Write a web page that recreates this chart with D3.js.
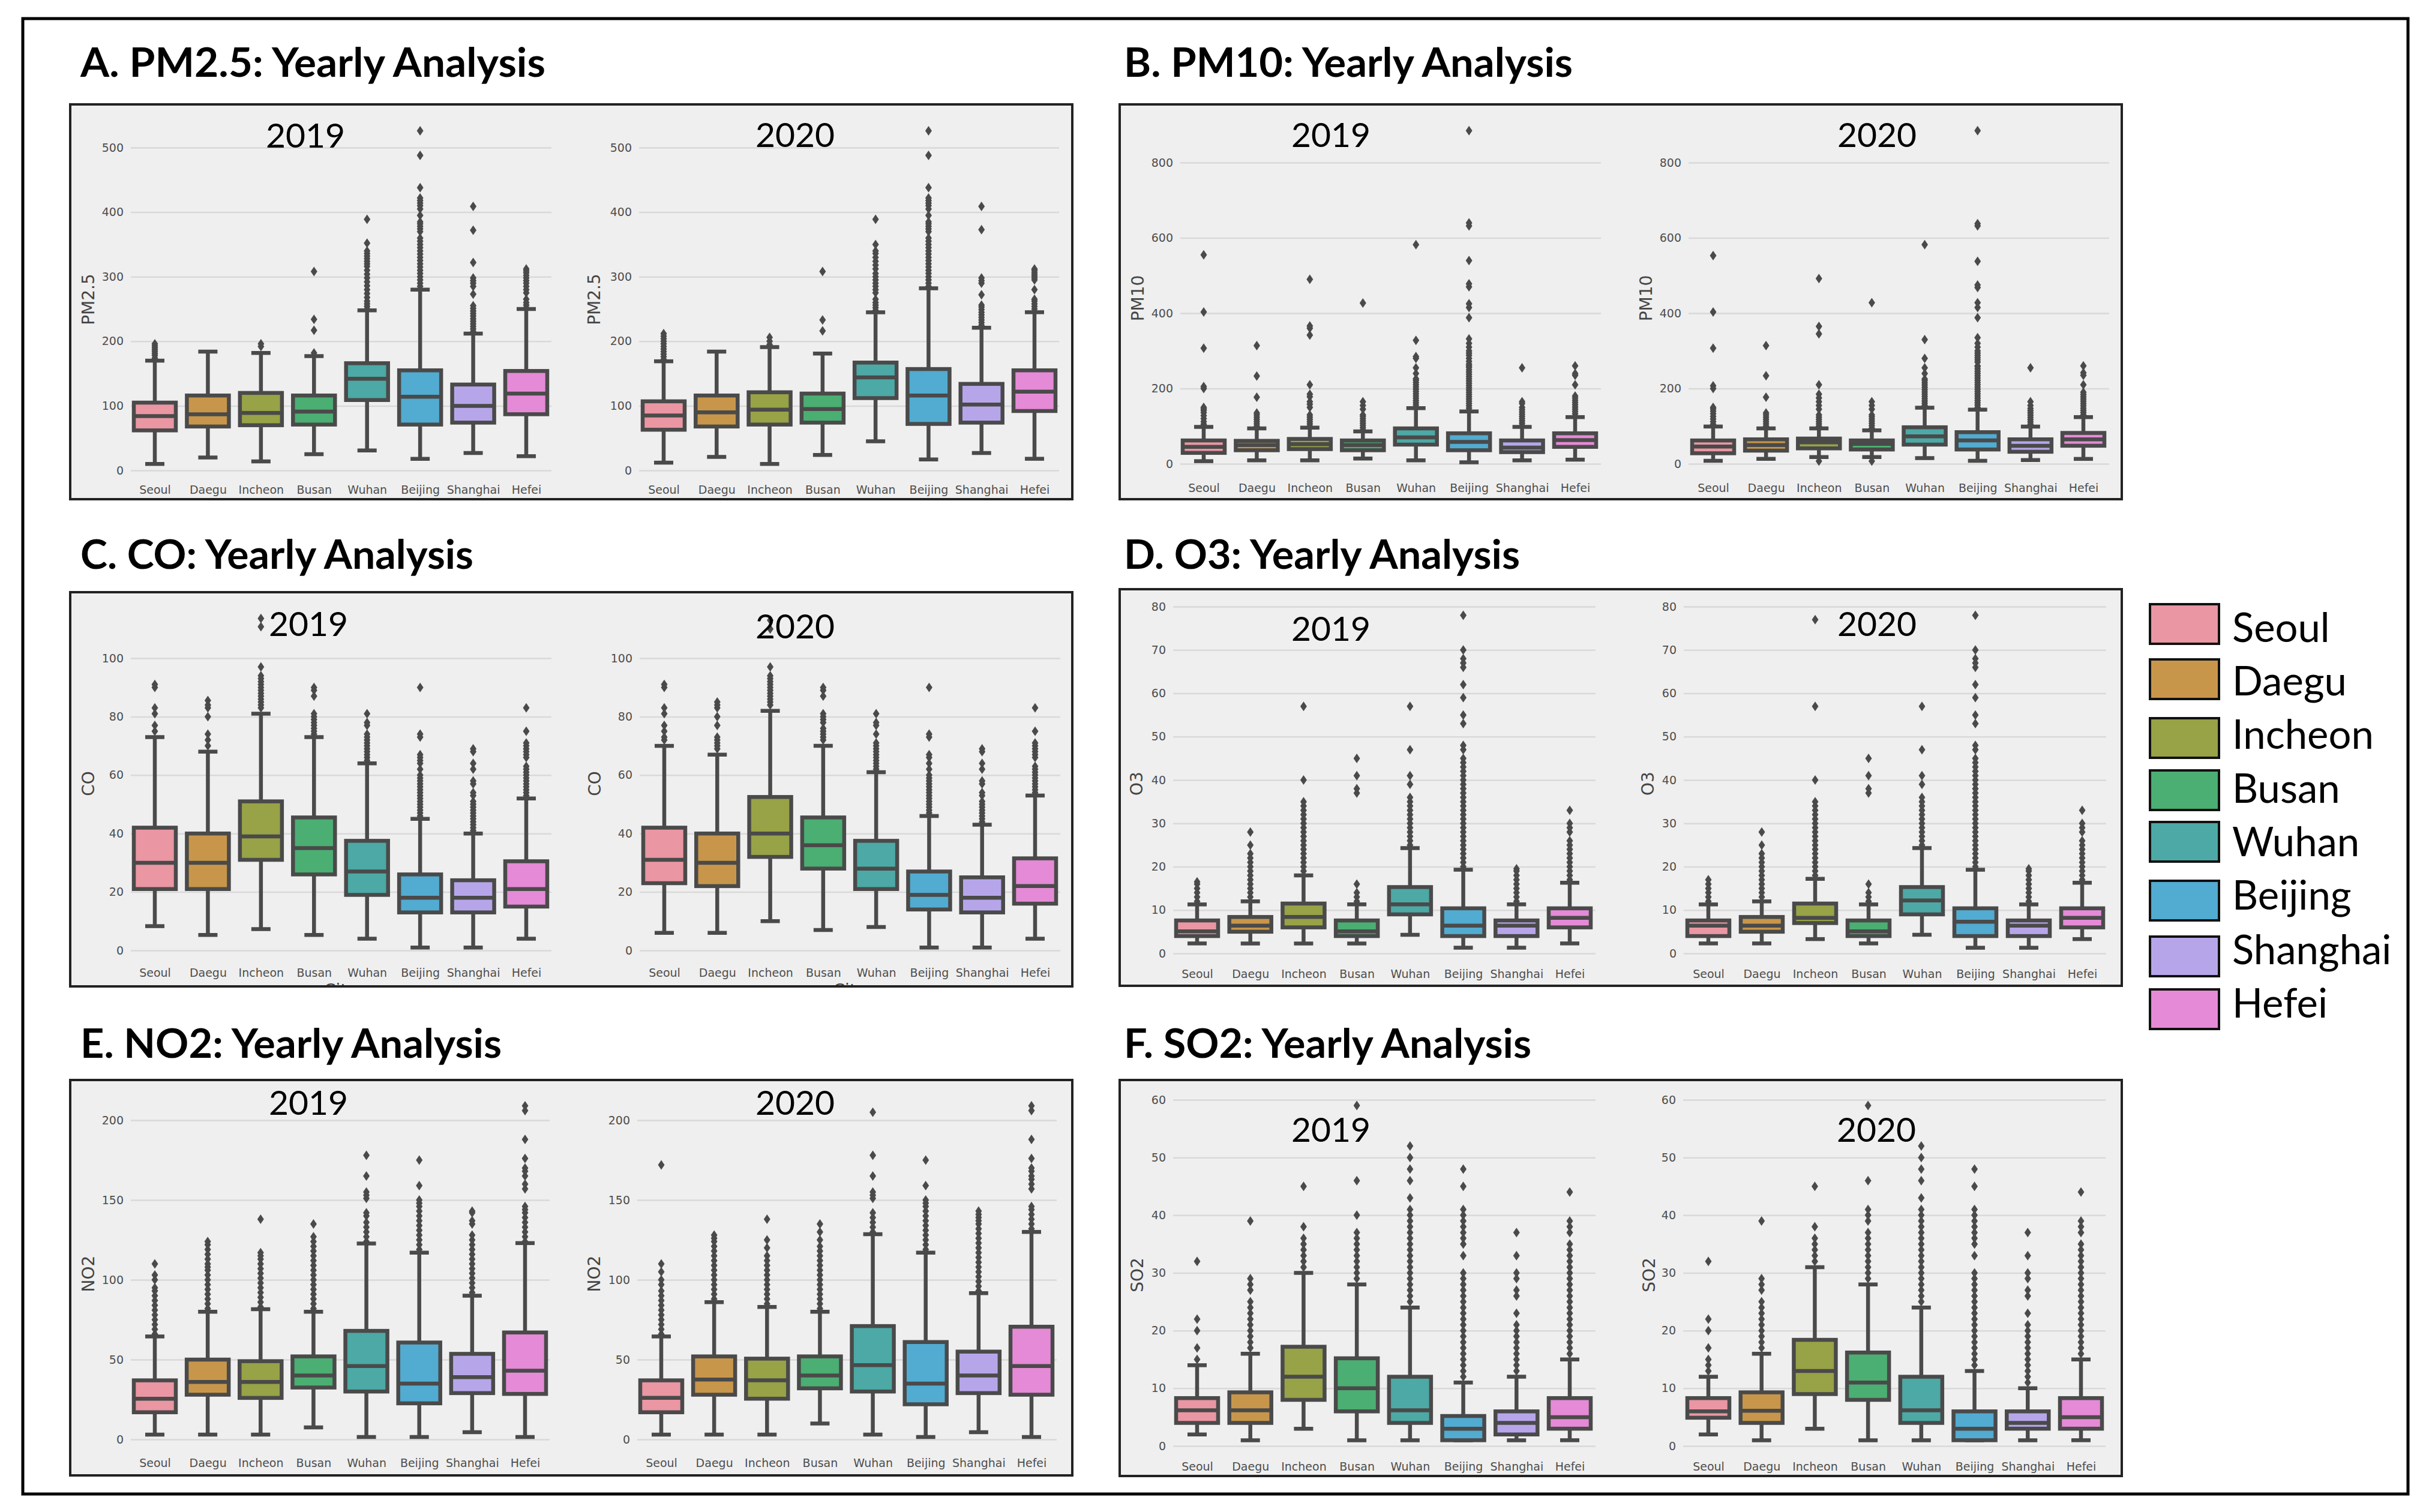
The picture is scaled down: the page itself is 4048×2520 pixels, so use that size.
<!DOCTYPE html>
<html>
<head>
<meta charset="utf-8">
<script src="https://d3js.org/d3.v7.min.js"></script>
<style>
body { margin: 0; background: #fff; }
</style>
</head>
<body>
<svg id="chart" width="4048" height="2520"></svg>
<script>
var cities = ["Seoul", "Daegu", "Incheon", "Busan", "Wuhan", "Beijing", "Shanghai", "Hefei"];
var cityColors = ["#ea96a3", "#c8964a", "#98a246", "#4bae72", "#4ca9a5", "#52abd0", "#b6a6e9", "#e58ad6"];

var pm25Ticks = [0, 100, 200, 300, 400, 500];
var pm10Ticks = [0, 200, 400, 600, 800];
var coTicks = [0, 20, 40, 60, 80, 100];
var o3Ticks = [0, 10, 20, 30, 40, 50, 60, 70, 80];
var no2Ticks = [0, 50, 100, 150, 200];
var so2Ticks = [0, 10, 20, 30, 40, 50, 60];

// every box row is low whisker, q1, median, q3, high whisker, in city order
var pm25Box2019 = [[10,62,84,105,170],[20,68,87,116,184],[14,70,89,120,182],[25,71,91,116,177],[31,109,142,166,248],[18,71,114,155,280],[27,74,100,133,212],[22,87,119,154,250]];
var pm25Box2020 = [[12,63,85,107,169],[21,68,90,116,184],[10,71,94,121,191],[24,74,95,119,181],[45,112,144,167,245],[17,72,116,157,282],[27,74,102,134,221],[18,92,122,155,245]];
var pm10Box2019 = [[7,29,45,62,98],[9,36,50,61,94],[9,39,52,66,96],[14,36,50,62,86],[9,51,70,94,148],[4,36,58,81,139],[9,31,43,62,98],[11,45,63,81,124]];
var pm10Box2020 = [[8,28,46,62,99],[13,35,50,65,94],[18,41,57,67,94],[18,38,53,62,89],[15,51,73,97,149],[8,38,62,84,144],[10,32,48,65,99],[13,48,65,82,124]];
var coBox2019 = [[8.3,21,30,42,73],[5.3,21,30,40,68],[7.3,31,39,51,81],[5.3,26,35,45.5,73],[4,19,27,37.5,64],[1,13,18,26,45],[1,13,18,24,40],[4,15,21,30.5,52]];
var coBox2020 = [[6,23,31,42,70],[6,22,30,40,67],[10,32,40,52.5,82],[7,28,36,45.5,70],[8,21,28,37.5,61],[1,14,19,27,46],[1,13,18,25,43],[4,16,22,31.5,53]];
var o3Box2019 = [[2.3,4,5.1,7.6,11.3],[2.3,5,6.4,8.4,12],[2.3,6,8.4,11.5,18],[2.3,4,5.1,7.6,11.3],[4.3,9,11.3,15.3,24.3],[1.3,4,6.4,10.4,19.3],[1.3,4,6.4,7.6,11.3],[2.3,6,8.2,10.4,16.3]];
var o3Box2020 = [[2.3,4,6.4,7.6,11.3],[2.3,5,6.4,8.4,12],[3.3,7,8.2,11.5,17.2],[2.3,4,5.1,7.6,11.3],[4.3,9,12.2,15.3,24.3],[1.3,4,7.3,10.4,19.3],[1.3,4,6.4,7.6,11.3],[3.3,6,8.2,10.4,16.3]];
var no2Box2019 = [[3,17,25.5,37,64.5],[3,28,36,50,80],[3,26,36,49,81.6],[7.5,32.5,40,52,80],[1.5,30,46,68,122.7],[1.5,22.6,35,60.7,117],[4.5,29,39,53.6,90],[1.5,28.5,43,67,123]];
var no2Box2020 = [[3,17,26,37,64.5],[3,28,37.5,52,86],[3,25.5,37,50.6,83],[10,32,40,52,80],[3,30,46.5,71,128.6],[1.5,22,35,61,117],[4.5,29,40,55,91.6],[1.5,28,46,70.6,130]];
var so2Box2019 = [[2,4,6.2,8.3,14],[1,4,6.2,9.3,16],[3,8,12,17.2,30],[1,6,10,15.2,28],[1,4,6.2,12,24],[1,1,3,5.2,11],[1,2,4,6,12],[1,3,5,8.3,15]];
var so2Box2020 = [[2,4.9,6,8.3,12],[1,4,6.1,9.3,16],[3,9,13,18.4,31],[1,8,11,16.2,28],[1,4,6.2,12,24],[1,1,3,6,13],[1,3,4,6,10],[1,3,5,8.3,15]];

var pm25Out2019 = [
  [174,178,181,184,187,190,193,196],[],[192,196],[182,217,234,308],
  [250,254,258,262,268,274,280,286,292,298,304,310,316,320,324,328,332,336,340,352,389],
  [285,290,295,300,305,310,315,320,325,330,335,340,345,350,355,360,370,374,378,382,385,395,405,410,414,418,422,438,488,526],
  [215,219,223,227,231,235,239,243,247,251,255,273,285,290,294,298,322,372,409],
  [252,256,260,265,275,280,285,290,294,298,302,306,309,312]];
var pm25Out2020 = [
  [172,176,180,184,188,192,196,200,204,208,212],[],[195,200,206],[216,233,308],
  [248,252,256,260,265,275,280,285,290,295,300,305,312,318,324,330,336,340,350,389],
  [285,290,295,300,305,310,315,320,325,330,335,340,345,350,355,360,370,374,378,382,385,395,405,410,414,418,422,438,488,526],
  [225,229,233,237,241,245,249,253,256,272,290,294,298,373,409],
  [250,254,258,262,265,280,295,298,301,304,307,310,312]];
var pm10Out2019 = [
  [105,112,120,128,136,142,146,150,200,205,307,403,555],
  [100,106,112,118,124,130,135,177,233,314],
  [100,106,112,118,124,130,150,158,165,178,185,210,342,360,366,490],
  [90,96,102,108,114,120,126,130,145,155,165,427],
  [150,156,162,168,174,180,186,192,198,204,210,216,222,226,240,255,280,285,328,582],
  [142,148,154,160,166,172,178,184,190,196,202,208,214,220,226,232,238,244,250,256,260,265,272,280,288,294,300,310,320,332,388,415,425,470,478,540,632,640,885],
  [102,108,114,120,126,132,138,144,150,160,165,255],
  [127,133,139,145,151,157,163,169,175,180,210,235,240,260]];
var pm10Out2020 = [
  [105,112,119,126,133,140,146,150,200,207,307,403,553],
  [100,106,112,118,124,130,135,177,234,314],
  [7,100,106,112,118,124,130,145,155,165,175,185,210,345,365,492],
  [7,95,101,107,113,119,125,130,145,155,165,428],
  [155,161,167,173,179,185,191,197,203,209,215,221,225,240,255,280,330,582],
  [150,156,162,168,174,180,186,192,198,204,210,216,222,228,234,240,246,252,258,260,270,276,282,288,294,300,310,320,335,388,415,428,468,475,538,632,638,885],
  [105,111,117,123,129,135,141,147,155,165,255],
  [130,136,142,148,154,160,166,172,178,184,190,210,235,242,260]];
var coOut2019 = [
  [75,77,81,83,90,91],
  [70,72,74,80,83,84,85.5],
  [83,84,85,86,87,88,89,90,91,92,93,94,97,110.8,113.6],
  [74,75,76,77,78,79,80,81,87,89,90],
  [65,66,67,68,69,70,71,72,73,74,77,78,81],
  [46,47,48,49,50,51,52,53,54,55,56,57,58,59,60,62,64,65,66,67,73,74,90],
  [41,42,43,44,45,46,47,48,49,50,51,53,54,57,58,62,64,68,69],
  [53,54,55,56,57,58,59,60,61,62,63,66,67,68,69,70,71,75,83]];
var coOut2020 = [
  [72,73,75,77,81,83,90,91],
  [69,70,71,72,73,77,80,83,84,85],
  [84,85,86,87,88,89,90,91,92,93,94,97,110,113],
  [72,73,74,75,76,78,79,80,81,87,89,90],
  [62,63,64,65,66,67,68,69,70,71,74,77,78,81],
  [47,48,49,50,51,52,53,54,55,56,57,58,59,60,62,64,66,67,73,74,90],
  [44,45,46,47,48,49,50,51,53,54,57,58,62,64,68,69],
  [54,55,56,57,58,59,60,61,62,63,66,67,68,69,70,71,75,83]];
var o3Out2019 = [
  [12,13,14,15,16,16.5],
  [13,14,15,16,17,18,19,20,21,22,23,25,28],
  [19,20,21,22,23,24,25,26,27,28,29,30,31,32,33,34,35,40,57],
  [12,13,14,16,37,38,41,45],
  [25,26,27,28,29,30,31,32,33,34,35,36,39,41,47,57],
  [20,21,22,23,24,25,26,27,28,29,30,31,32,33,34,35,36,37,38,39,40,41,42,43,44,45,47,48,53,55,59,62,66,67,68,70,78],
  [12,13,14,15,16,17,18,19,19.5],
  [17,18,19,20,21,22,23,24,25,26,28,29,30,33]];
var o3Out2020 = [
  [12,13,14,15,16,17],
  [13,14,15,16,17,18,19,20,21,22,23,25,28],
  [18,19,20,21,22,23,24,25,26,27,28,29,30,31,32,33,34,35,40,57,77],
  [12,13,14,16,37,38,41,45],
  [25,26,27,28,29,30,31,32,33,34,35,36,39,41,47,57],
  [20,21,22,23,24,25,26,27,28,29,30,31,32,33,34,35,36,37,38,39,40,41,42,43,44,45,47,48,53,55,59,62,66,67,68,70,78],
  [12,13,14,15,16,17,18,19,19.5],
  [17,18,19,20,21,22,23,24,25,26,28,29,30,33]];
var no2Out2019 = [
  [66,69,72,75,78,81,84,87,90,93,95,100,103,110],
  [82,85,88,91,94,97,100,103,106,108,110,113,116,119,122,124],
  [83,86,89,92,95,98,101,104,107,110,113,115,117,138],
  [82,85,88,91,94,97,100,103,106,109,112,115,118,121,124,127,135],
  [124,127,130,133,136,140,142,151,153,155,165,178],
  [119,122,125,128,131,134,137,140,143,146,148,150,159,175],
  [92,95,98,101,104,107,110,113,116,119,122,125,128,135,137,142,143],
  [124,127,130,133,136,139,142,144,146,157,160,165,168,170,176,188,206,209]];
var no2Out2020 = [
  [66,69,72,75,78,81,84,87,90,93,97,100,105,110,172],
  [88,91,94,97,100,103,106,109,112,115,118,121,124,126,128],
  [85,88,91,94,97,100,103,106,109,112,115,120,125,138],
  [82,85,88,91,94,97,100,103,106,109,112,115,118,121,125,130,135],
  [130,133,136,139,142,151,153,155,165,178,205],
  [119,122,125,128,131,134,137,140,143,146,148,150,159,175],
  [93,96,99,102,105,108,111,114,117,120,123,126,129,132,135,137,139,141,143],
  [132,135,138,141,144,146,157,160,163,165,168,170,176,188,206,209]];
var so2Out2019 = [
  [15,17,20,22,32],
  [17,18,19,20,21,22,23,24,25,27,28,29,39],
  [31,32,33,34,35,36,38,45],
  [29,30,31,32,33,34,35,36,37,40,46,59],
  [25,26,27,28,29,30,31,32,33,34,35,36,37,38,39,40,41,43,46,48,50,52],
  [12,13,14,15,16,17,18,19,20,21,22,23,24,25,26,27,28,29,30,33,35,36,37,38,39,40,41,45,48],
  [13,14,15,16,17,18,19,20,21,23,26,27,29,30,33,37],
  [16,17,18,19,20,21,22,23,24,25,26,27,28,29,30,31,32,33,34,35,37,38,39,44]];
var so2Out2020 = [
  [13,14,15,17,20,22,32],
  [17,18,19,20,21,22,23,24,25,27,28,29,39],
  [32,33,34,35,36,38,45],
  [29,30,31,32,33,34,35,36,37,39,40,41,46,59],
  [25,26,27,28,29,30,31,32,33,34,35,36,37,38,39,40,41,43,46,48,50,52],
  [14,15,16,17,18,19,20,21,22,23,24,25,26,27,28,29,30,33,35,36,37,38,39,40,41,45,48],
  [11,12,13,14,15,16,17,18,19,20,21,23,26,27,29,30,33,37],
  [16,17,18,19,20,21,22,23,24,25,26,27,28,29,30,31,32,33,34,35,37,38,39,44]];

// page layout, all in pixels of the 4048x2520 picture
var panels = [
  {title: "A. PM2.5: Yearly Analysis", label: "PM2.5", ticks: pm25Ticks, max: 500, titleX: 134, titleY: 128, titleW: 775,
   left: 117, right: 1787, top: 174, bottom: 832, y0: 784, yMax: 246, tickY: 823,
   plots: [
    {year: "2019", box: pm25Box2019, out: pm25Out2019, gridL: 218, gridR: 919, first: 258, last: 877, yearX: 509, yearY: 246, labelX: 147, labelY: 499},
    {year: "2020", box: pm25Box2020, out: pm25Out2020, gridL: 1065, gridR: 1765, first: 1106, last: 1724, yearX: 1325, yearY: 245, labelX: 990, labelY: 499}]},
  {title: "B. PM10: Yearly Analysis", label: "PM10", ticks: pm10Ticks, max: 800, titleX: 1873, titleY: 128, titleW: 748,
   left: 1866, right: 3536, top: 174, bottom: 832, y0: 773, yMax: 271, tickY: 820,
   plots: [
    {year: "2019", box: pm10Box2019, out: pm10Out2019, gridL: 1967, gridR: 2668, first: 2006, last: 2625, yearX: 2218, yearY: 245, labelX: 1896, labelY: 497},
    {year: "2020", box: pm10Box2020, out: pm10Out2020, gridL: 2814, gridR: 3515, first: 2855, last: 3472, yearX: 3128, yearY: 245, labelX: 2743, labelY: 497}]},
  {title: "C. CO: Yearly Analysis", label: "CO", ticks: coTicks, max: 100, titleX: 134, titleY: 948, titleW: 655,
   left: 117, right: 1787, top: 987, bottom: 1644, y0: 1584, yMax: 1097, tickY: 1628, clipped: "City",
   plots: [
    {year: "2019", box: coBox2019, out: coOut2019, gridL: 218, gridR: 919, first: 258, last: 877, yearX: 514, yearY: 1060, labelX: 147, labelY: 1306},
    {year: "2020", box: coBox2020, out: coOut2020, gridL: 1066, gridR: 1767, first: 1107, last: 1725, yearX: 1325, yearY: 1064, labelX: 991, labelY: 1306}]},
  {title: "D. O3: Yearly Analysis", label: "O3", ticks: o3Ticks, max: 80, titleX: 1873, titleY: 948, titleW: 660,
   left: 1866, right: 3536, top: 982, bottom: 1643, y0: 1589, yMax: 1011, tickY: 1630,
   plots: [
    {year: "2019", box: o3Box2019, out: o3Out2019, gridL: 1955, gridR: 2659, first: 1995, last: 2616, yearX: 2218, yearY: 1068, labelX: 1894, labelY: 1306},
    {year: "2020", box: o3Box2020, out: o3Out2020, gridL: 2806, gridR: 3510, first: 2847, last: 3470, yearX: 3128, yearY: 1060, labelX: 2746, labelY: 1306}]},
  {title: "E. NO2: Yearly Analysis", label: "NO2", ticks: no2Ticks, max: 200, titleX: 134, titleY: 1763, titleW: 702,
   left: 117, right: 1787, top: 1800, bottom: 2459, y0: 2399, yMax: 1867, tickY: 2445,
   plots: [
    {year: "2019", box: no2Box2019, out: no2Out2019, gridL: 218, gridR: 916, first: 258, last: 875, yearX: 514, yearY: 1858, labelX: 147, labelY: 2123},
    {year: "2020", box: no2Box2020, out: no2Out2020, gridL: 1062, gridR: 1761, first: 1102, last: 1719, yearX: 1325, yearY: 1858, labelX: 990, labelY: 2123}]},
  {title: "F. SO2: Yearly Analysis", label: "SO2", ticks: so2Ticks, max: 60, titleX: 1873, titleY: 1763, titleW: 679,
   left: 1866, right: 3536, top: 1800, bottom: 2460, y0: 2410, yMax: 1833, tickY: 2451,
   plots: [
    {year: "2019", box: so2Box2019, out: so2Out2019, gridL: 1955, gridR: 2659, first: 1995, last: 2616, yearX: 2218, yearY: 1903, labelX: 1895, labelY: 2125},
    {year: "2020", box: so2Box2020, out: so2Out2020, gridL: 2805, gridR: 3509, first: 2847, last: 3468, yearX: 3127, yearY: 1903, labelX: 2748, labelY: 2125}]}
];

var legendTops = [1007, 1099, 1197, 1284, 1370, 1468, 1561, 1649];
var legendBases = [1070, 1159, 1248, 1338, 1427, 1516, 1607, 1696];

var lineColor = "#4a4a4a";
var svg = d3.select("#chart");

//outer frame
svg.append("rect")
   .attr("x", 38).attr("y", 31).attr("width", 3975).attr("height", 2459)
   .attr("fill", "#fff").attr("stroke", "#000").attr("stroke-width", 5);

function drawPlot(parent, panel, plot) {
    var g = parent.append("g");
    var x = d3.scalePoint().domain(cities).range([plot.first, plot.last]);
    var y = d3.scaleLinear().domain([0, panel.max]).range([panel.y0, panel.yMax]);

    //y axis carries the gridlines
    var yAxis = g.append("g")
        .attr("transform", "translate(" + plot.gridL + ",0)")
        .call(d3.axisLeft(y).tickValues(panel.ticks).tickSize(-(plot.gridR - plot.gridL)).tickPadding(12));
    yAxis.select(".domain").remove();
    yAxis.selectAll("line").attr("stroke", "#d9d9d9").attr("stroke-width", 2.5);
    yAxis.selectAll("text").attr("fill", "#4d4d4d").style("font", "19px 'DejaVu Sans'");

    var xAxis = g.append("g")
        .attr("transform", "translate(0," + panel.y0 + ")")
        .call(d3.axisBottom(x).tickSize(0));
    xAxis.select(".domain").remove();
    xAxis.selectAll("text")
        .attr("y", panel.tickY - panel.y0).attr("dy", 0)
        .attr("fill", "#4d4d4d").style("font", "19px 'DejaVu Sans'");

    g.append("text")
        .attr("transform", "translate(" + plot.labelX + "," + plot.labelY + ") rotate(-90)")
        .attr("text-anchor", "middle").attr("dy", "0.35em")
        .attr("fill", "#444").style("font", "28px 'DejaVu Sans'")
        .text(panel.label);

    var boxW = 70, capW = 32, lineW = 6.5;
    var rows = g.selectAll("g.city")
        .data(cities.map(function(c, i) { return {city: c, color: cityColors[i], box: plot.box[i], out: plot.out[i]}; }))
        .enter().append("g").attr("class", "city");

    //outliers as thin diamonds
    rows.selectAll("path.out")
        .data(function(d) { return d.out.map(function(v) { return {city: d.city, v: v}; }); })
        .enter().append("path")
        .attr("class", "out")
        .attr("d", "M0,-8L5.5,0L0,8L-5.5,0Z")
        .attr("transform", function(d) { return "translate(" + x(d.city) + "," + y(d.v) + ")"; })
        .attr("fill", lineColor);

    //whisker stems and caps
    rows.append("line")
        .attr("x1", function(d) { return x(d.city); }).attr("x2", function(d) { return x(d.city); })
        .attr("y1", function(d) { return y(d.box[0]); }).attr("y2", function(d) { return y(d.box[4]); })
        .attr("stroke", lineColor).attr("stroke-width", lineW);
    [0, 4].forEach(function(k) {
        rows.append("line")
            .attr("x1", function(d) { return x(d.city) - capW / 2; }).attr("x2", function(d) { return x(d.city) + capW / 2; })
            .attr("y1", function(d) { return y(d.box[k]); }).attr("y2", function(d) { return y(d.box[k]); })
            .attr("stroke", lineColor).attr("stroke-width", lineW);
    });

    rows.append("rect")
        .attr("x", function(d) { return x(d.city) - boxW / 2; })
        .attr("width", boxW)
        .attr("y", function(d) { return y(d.box[3]); })
        .attr("height", function(d) { return y(d.box[1]) - y(d.box[3]); })
        .attr("fill", function(d) { return d.color; })
        .attr("stroke", lineColor).attr("stroke-width", lineW);

    rows.append("line")
        .attr("x1", function(d) { return x(d.city) - boxW / 2; }).attr("x2", function(d) { return x(d.city) + boxW / 2; })
        .attr("y1", function(d) { return y(d.box[2]); }).attr("y2", function(d) { return y(d.box[2]); })
        .attr("stroke", lineColor).attr("stroke-width", lineW);

    //clipped axis title left over from the pasted figure
    if (panel.clipped) {
        g.append("text")
            .attr("x", (plot.first + plot.last) / 2).attr("y", panel.bottom + 16)
            .attr("text-anchor", "middle").attr("fill", "#444")
            .attr("clip-path", "url(#clip" + panels.indexOf(panel) + ")")
            .style("font", "28px 'DejaVu Sans'")
            .text(panel.clipped);
    }

    g.append("text")
        .attr("x", plot.yearX).attr("y", plot.yearY)
        .attr("text-anchor", "middle").attr("fill", "#000")
        .style("font", "57px Lato")
        .text(plot.year);
}

panels.forEach(function(panel, i) {
    var g = svg.append("g");

    g.append("text")
        .attr("x", panel.titleX).attr("y", panel.titleY)
        .attr("textLength", panel.titleW).attr("lengthAdjust", "spacingAndGlyphs")
        .attr("fill", "#000").style("font", "bold 66px Lato")
        .text(panel.title);

    g.append("clipPath").attr("id", "clip" + i)
        .append("rect")
        .attr("x", panel.left).attr("y", panel.top)
        .attr("width", panel.right - panel.left).attr("height", panel.bottom - panel.top);

    g.append("rect")
        .attr("x", panel.left).attr("y", panel.top)
        .attr("width", panel.right - panel.left).attr("height", panel.bottom - panel.top)
        .attr("fill", "#efefef");

    panel.plots.forEach(function(plot) { drawPlot(g, panel, plot); });

    g.append("rect")
        .attr("x", panel.left).attr("y", panel.top)
        .attr("width", panel.right - panel.left).attr("height", panel.bottom - panel.top)
        .attr("fill", "none").attr("stroke", "#222").attr("stroke-width", 4);
});

//legend
var legend = svg.append("g");
cities.forEach(function(c, i) {
    legend.append("rect")
        .attr("x", 3583).attr("y", legendTops[i])
        .attr("width", 115).attr("height", 66)
        .attr("fill", cityColors[i]).attr("stroke", "#111").attr("stroke-width", 4);
    legend.append("text")
        .attr("x", 3720).attr("y", legendBases[i])
        .attr("fill", "#000").style("font", "67px Lato")
        .text(c);
});
</script>
</body>
</html>
